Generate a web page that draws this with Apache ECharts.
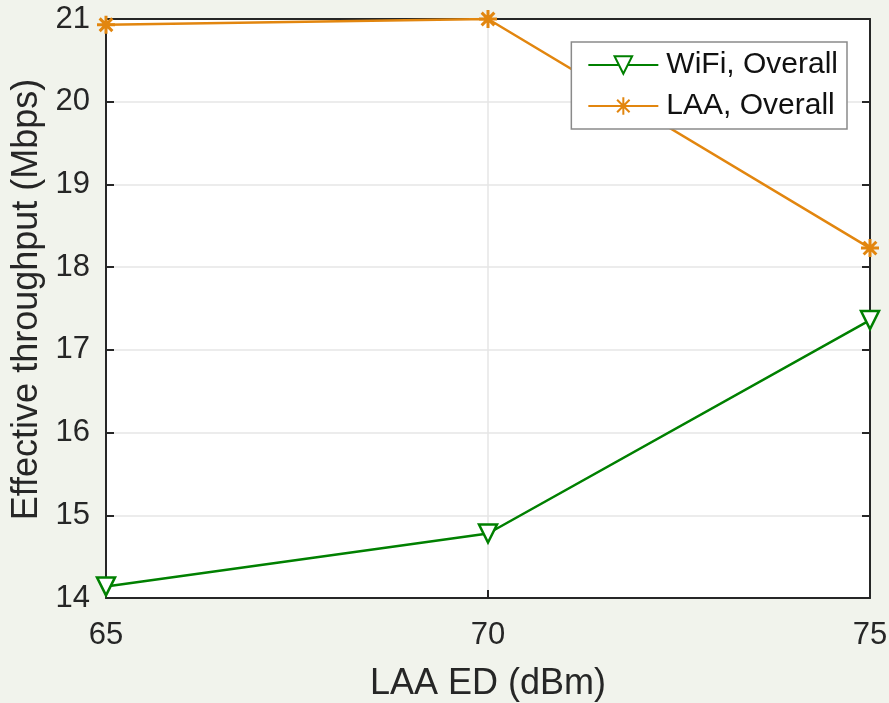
<!DOCTYPE html>
<html><head><meta charset="utf-8">
<script src="https://cdn.jsdelivr.net/npm/echarts@6/dist/echarts.min.js"></script>
<style>html,body{margin:0;padding:0;background:#f1f3ec;}#c{width:889px;height:703px;}</style>
</head><body><div id="c"></div>
<script>
const edValues = [65, 70, 75];
const wifiOverall = [14.14, 14.78, 17.36];
const laaOverall = [20.93, 21.0, 18.23];
const seriesNames = ['WiFi, Overall', 'LAA, Overall'];

const FONT = '"Liberation Sans", Arial, sans-serif';
const AX = '#262626';
const green = '#008000';
const orange = '#e2860f';
const star = 'path://M0,-10 L0,10 M-10,0 L10,0 M-7.07,-7.07 L7.07,7.07 M-7.07,7.07 L7.07,-7.07';

const chart = echarts.init(document.getElementById('c'));
chart.setOption({
  backgroundColor: '#f1f3ec',
  animation: false,
  grid: {left: 106, top: 19, right: 19, bottom: 105, show: true, backgroundColor: '#fff', borderWidth: 0,
         containLabel: false, outerBoundsMode: 'none'},
  legend: {
    right: 42, top: 42, orient: 'vertical', z: 10,
    backgroundColor: '#fff', borderColor: '#8a8a8a', borderWidth: 1.5,
    padding: [8, 9, 8, 16], itemGap: 11, itemWidth: 70, itemHeight: 22,
    textStyle: {fontFamily: FONT, fontSize: 30, color: '#111', padding: [0, 0, 0, 3]},
    data: seriesNames
  },
  xAxis: [{
    type: 'value', min: 65, max: 75, interval: 5,
    name: 'LAA ED (dBm)', nameLocation: 'middle', nameGap: 68,
    nameTextStyle: {fontFamily: FONT, fontSize: 36, color: AX},
    axisLine: {lineStyle: {color: AX, width: 2}},
    axisTick: {inside: true, length: 8, lineStyle: {color: AX, width: 2}},
    axisLabel: {fontFamily: FONT, fontSize: 31, color: AX, margin: 22},
    splitLine: {show: true, lineStyle: {color: '#e6e6e6', width: 1.5}}
  }, {
    type: 'value', position: 'top', min: 65, max: 75, interval: 5,
    axisLine: {lineStyle: {color: AX, width: 2}},
    axisTick: {inside: true, length: 8, lineStyle: {color: AX, width: 2}},
    axisLabel: {show: false}, splitLine: {show: false}
  }],
  yAxis: [{
    type: 'value', min: 14, max: 21, interval: 1,
    name: 'Effective throughput (Mbps)', nameLocation: 'middle', nameGap: 59,
    nameTextStyle: {fontFamily: FONT, fontSize: 36, color: AX, padding: [0, 0, 0, 18]},
    axisLine: {show: true, lineStyle: {color: AX, width: 2}},
    axisTick: {show: true, inside: true, length: 8, lineStyle: {color: AX, width: 2}},
    axisLabel: {fontFamily: FONT, fontSize: 31, color: AX, margin: 16},
    splitLine: {show: true, lineStyle: {color: '#e6e6e6', width: 1.5}}
  }, {
    type: 'value', position: 'right', min: 14, max: 21, interval: 1,
    axisLine: {show: true, lineStyle: {color: AX, width: 2}},
    axisTick: {show: true, inside: true, length: 8, lineStyle: {color: AX, width: 2}},
    axisLabel: {show: false}, splitLine: {show: false}
  }],
  series: [{
    name: seriesNames[0], type: 'line',
    data: edValues.map((x, i) => [x, wifiOverall[i]]),
    lineStyle: {color: green, width: 2.5},
    itemStyle: {color: '#fff', borderColor: green, borderWidth: 2.5},
    symbol: 'triangle', symbolRotate: 180, symbolSize: 18, showAllSymbol: true
  }, {
    name: seriesNames[1], type: 'line',
    data: edValues.map((x, i) => [x, laaOverall[i]]),
    lineStyle: {color: orange, width: 2.5},
    itemStyle: {color: 'none', borderColor: orange, borderWidth: 3},
    symbol: star, symbolSize: 18, showAllSymbol: true
  }]
});
</script></body></html>
